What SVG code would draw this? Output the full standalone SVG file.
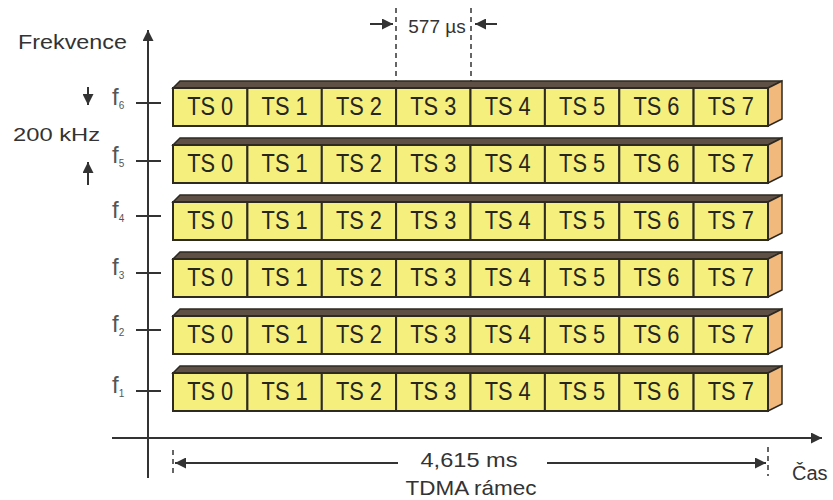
<svg xmlns="http://www.w3.org/2000/svg" width="833" height="500" viewBox="0 0 833 500">
<style>
.ax{stroke:#333;stroke-width:2;fill:none}
.dash{stroke:#333;stroke-width:1.5;stroke-dasharray:5,4;fill:none}
.cell{fill:#f5ef7e;stroke:#2e2a22;stroke-width:2}
.top{fill:#5e5044;stroke:#2e2a22;stroke-width:1.5}
.side{fill:#f2b97c;stroke:#2e2a22;stroke-width:1.5}
.ts{font-family:"Liberation Sans",Arial,sans-serif;font-size:25px;fill:#26261e;text-anchor:middle}
.lbl{font-family:"Liberation Sans",Arial,sans-serif;fill:#333}
.f{font-family:"Liberation Sans",Arial,sans-serif;font-size:24px;fill:#555}
.fs{font-size:10px}
</style>
<defs>
<marker id="ah" viewBox="0 0 10 10" refX="10" refY="5" markerUnits="userSpaceOnUse" markerWidth="15" markerHeight="11" orient="auto-start-reverse">
<path d="M0,0 L10,5 L0,10 z" fill="#333"/>
</marker>
</defs>

<g id="axes">
<line class="ax" x1="148" y1="478" x2="148" y2="30" marker-end="url(#ah)"/>
<line class="ax" x1="112" y1="438" x2="822" y2="438" marker-end="url(#ah)"/>
<text class="lbl" x="18" y="49" font-size="20" textLength="109" lengthAdjust="spacingAndGlyphs">Frekvence</text>
<text class="lbl" x="792" y="480" font-size="20">Čas</text>
</g>

<g id="freq-labels">
<line class="ax" x1="136" y1="103" x2="161" y2="103"/>
<line class="ax" x1="136" y1="161" x2="161" y2="161"/>
<line class="ax" x1="136" y1="216" x2="161" y2="216"/>
<line class="ax" x1="136" y1="273" x2="161" y2="273"/>
<line class="ax" x1="136" y1="330" x2="161" y2="330"/>
<line class="ax" x1="136" y1="391" x2="161" y2="391"/>
<text class="f" x="112" y="105">f<tspan class="fs" dy="4">6</tspan></text>
<text class="f" x="112" y="163">f<tspan class="fs" dy="4">5</tspan></text>
<text class="f" x="112" y="218">f<tspan class="fs" dy="4">4</tspan></text>
<text class="f" x="112" y="275">f<tspan class="fs" dy="4">3</tspan></text>
<text class="f" x="112" y="332">f<tspan class="fs" dy="4">2</tspan></text>
<text class="f" x="112" y="393">f<tspan class="fs" dy="4">1</tspan></text>
</g>

<g id="bandwidth">
<line class="ax" x1="88" y1="87" x2="88" y2="105" marker-end="url(#ah)"/>
<line class="ax" x1="88" y1="185" x2="88" y2="162" marker-end="url(#ah)"/>
<text class="lbl" x="13" y="141" font-size="19" textLength="87" lengthAdjust="spacingAndGlyphs">200 kHz</text>
</g>

<g id="connectors">
<line class="dash" x1="396" y1="8" x2="396" y2="81"/>
<line class="dash" x1="471" y1="8" x2="471" y2="81"/>
<line class="ax" x1="370" y1="24" x2="393" y2="24" marker-end="url(#ah)"/>
<line class="ax" x1="497" y1="24" x2="475" y2="24" marker-end="url(#ah)"/>
<line class="dash" x1="173" y1="450" x2="173" y2="476"/>
<line class="dash" x1="768" y1="447" x2="768" y2="476"/>
<line class="ax" x1="398" y1="463" x2="175" y2="463" marker-end="url(#ah)"/>
<line class="ax" x1="547" y1="463" x2="766" y2="463" marker-end="url(#ah)"/>
</g>
<g id="time-labels">
<text class="lbl" x="437" y="33" font-size="19" text-anchor="middle">577 µs</text>
<text class="lbl" x="469" y="467" font-size="21" text-anchor="middle" textLength="97" lengthAdjust="spacingAndGlyphs">4,615 ms</text>
<text class="lbl" x="471" y="495" font-size="21" text-anchor="middle" textLength="131" lengthAdjust="spacingAndGlyphs">TDMA rámec</text>
</g>

<g id="row-f6">
<polygon class="top" points="173,88 180,81 782,81 768,88"/>
<polygon class="side" points="768,88 782,81 782,119 768,126"/>
<g id="f6-ts0"><rect class="cell" x="173" y="88" width="74.4" height="38"/><text class="ts" x="210.2" y="115" textLength="46" lengthAdjust="spacingAndGlyphs">TS 0</text></g>
<g id="f6-ts1"><rect class="cell" x="247.4" y="88" width="74.4" height="38"/><text class="ts" x="284.6" y="115" textLength="46" lengthAdjust="spacingAndGlyphs">TS 1</text></g>
<g id="f6-ts2"><rect class="cell" x="321.8" y="88" width="74.3" height="38"/><text class="ts" x="358.9" y="115" textLength="46" lengthAdjust="spacingAndGlyphs">TS 2</text></g>
<g id="f6-ts3"><rect class="cell" x="396.1" y="88" width="74.4" height="38"/><text class="ts" x="433.3" y="115" textLength="46" lengthAdjust="spacingAndGlyphs">TS 3</text></g>
<g id="f6-ts4"><rect class="cell" x="470.5" y="88" width="74.4" height="38"/><text class="ts" x="507.7" y="115" textLength="46" lengthAdjust="spacingAndGlyphs">TS 4</text></g>
<g id="f6-ts5"><rect class="cell" x="544.9" y="88" width="74.4" height="38"/><text class="ts" x="582.1" y="115" textLength="46" lengthAdjust="spacingAndGlyphs">TS 5</text></g>
<g id="f6-ts6"><rect class="cell" x="619.3" y="88" width="74.3" height="38"/><text class="ts" x="656.4" y="115" textLength="46" lengthAdjust="spacingAndGlyphs">TS 6</text></g>
<g id="f6-ts7"><rect class="cell" x="693.6" y="88" width="74.4" height="38"/><text class="ts" x="730.8" y="115" textLength="46" lengthAdjust="spacingAndGlyphs">TS 7</text></g>
</g>

<g id="row-f5">
<polygon class="top" points="173,145 180,138 782,138 768,145"/>
<polygon class="side" points="768,145 782,138 782,176 768,183"/>
<g id="f5-ts0"><rect class="cell" x="173" y="145" width="74.4" height="38"/><text class="ts" x="210.2" y="172" textLength="46" lengthAdjust="spacingAndGlyphs">TS 0</text></g>
<g id="f5-ts1"><rect class="cell" x="247.4" y="145" width="74.4" height="38"/><text class="ts" x="284.6" y="172" textLength="46" lengthAdjust="spacingAndGlyphs">TS 1</text></g>
<g id="f5-ts2"><rect class="cell" x="321.8" y="145" width="74.3" height="38"/><text class="ts" x="358.9" y="172" textLength="46" lengthAdjust="spacingAndGlyphs">TS 2</text></g>
<g id="f5-ts3"><rect class="cell" x="396.1" y="145" width="74.4" height="38"/><text class="ts" x="433.3" y="172" textLength="46" lengthAdjust="spacingAndGlyphs">TS 3</text></g>
<g id="f5-ts4"><rect class="cell" x="470.5" y="145" width="74.4" height="38"/><text class="ts" x="507.7" y="172" textLength="46" lengthAdjust="spacingAndGlyphs">TS 4</text></g>
<g id="f5-ts5"><rect class="cell" x="544.9" y="145" width="74.4" height="38"/><text class="ts" x="582.1" y="172" textLength="46" lengthAdjust="spacingAndGlyphs">TS 5</text></g>
<g id="f5-ts6"><rect class="cell" x="619.3" y="145" width="74.3" height="38"/><text class="ts" x="656.4" y="172" textLength="46" lengthAdjust="spacingAndGlyphs">TS 6</text></g>
<g id="f5-ts7"><rect class="cell" x="693.6" y="145" width="74.4" height="38"/><text class="ts" x="730.8" y="172" textLength="46" lengthAdjust="spacingAndGlyphs">TS 7</text></g>
</g>

<g id="row-f4">
<polygon class="top" points="173,202 180,195 782,195 768,202"/>
<polygon class="side" points="768,202 782,195 782,233 768,240"/>
<g id="f4-ts0"><rect class="cell" x="173" y="202" width="74.4" height="38"/><text class="ts" x="210.2" y="229" textLength="46" lengthAdjust="spacingAndGlyphs">TS 0</text></g>
<g id="f4-ts1"><rect class="cell" x="247.4" y="202" width="74.4" height="38"/><text class="ts" x="284.6" y="229" textLength="46" lengthAdjust="spacingAndGlyphs">TS 1</text></g>
<g id="f4-ts2"><rect class="cell" x="321.8" y="202" width="74.3" height="38"/><text class="ts" x="358.9" y="229" textLength="46" lengthAdjust="spacingAndGlyphs">TS 2</text></g>
<g id="f4-ts3"><rect class="cell" x="396.1" y="202" width="74.4" height="38"/><text class="ts" x="433.3" y="229" textLength="46" lengthAdjust="spacingAndGlyphs">TS 3</text></g>
<g id="f4-ts4"><rect class="cell" x="470.5" y="202" width="74.4" height="38"/><text class="ts" x="507.7" y="229" textLength="46" lengthAdjust="spacingAndGlyphs">TS 4</text></g>
<g id="f4-ts5"><rect class="cell" x="544.9" y="202" width="74.4" height="38"/><text class="ts" x="582.1" y="229" textLength="46" lengthAdjust="spacingAndGlyphs">TS 5</text></g>
<g id="f4-ts6"><rect class="cell" x="619.3" y="202" width="74.3" height="38"/><text class="ts" x="656.4" y="229" textLength="46" lengthAdjust="spacingAndGlyphs">TS 6</text></g>
<g id="f4-ts7"><rect class="cell" x="693.6" y="202" width="74.4" height="38"/><text class="ts" x="730.8" y="229" textLength="46" lengthAdjust="spacingAndGlyphs">TS 7</text></g>
</g>

<g id="row-f3">
<polygon class="top" points="173,259 180,252 782,252 768,259"/>
<polygon class="side" points="768,259 782,252 782,290 768,297"/>
<g id="f3-ts0"><rect class="cell" x="173" y="259" width="74.4" height="38"/><text class="ts" x="210.2" y="286" textLength="46" lengthAdjust="spacingAndGlyphs">TS 0</text></g>
<g id="f3-ts1"><rect class="cell" x="247.4" y="259" width="74.4" height="38"/><text class="ts" x="284.6" y="286" textLength="46" lengthAdjust="spacingAndGlyphs">TS 1</text></g>
<g id="f3-ts2"><rect class="cell" x="321.8" y="259" width="74.3" height="38"/><text class="ts" x="358.9" y="286" textLength="46" lengthAdjust="spacingAndGlyphs">TS 2</text></g>
<g id="f3-ts3"><rect class="cell" x="396.1" y="259" width="74.4" height="38"/><text class="ts" x="433.3" y="286" textLength="46" lengthAdjust="spacingAndGlyphs">TS 3</text></g>
<g id="f3-ts4"><rect class="cell" x="470.5" y="259" width="74.4" height="38"/><text class="ts" x="507.7" y="286" textLength="46" lengthAdjust="spacingAndGlyphs">TS 4</text></g>
<g id="f3-ts5"><rect class="cell" x="544.9" y="259" width="74.4" height="38"/><text class="ts" x="582.1" y="286" textLength="46" lengthAdjust="spacingAndGlyphs">TS 5</text></g>
<g id="f3-ts6"><rect class="cell" x="619.3" y="259" width="74.3" height="38"/><text class="ts" x="656.4" y="286" textLength="46" lengthAdjust="spacingAndGlyphs">TS 6</text></g>
<g id="f3-ts7"><rect class="cell" x="693.6" y="259" width="74.4" height="38"/><text class="ts" x="730.8" y="286" textLength="46" lengthAdjust="spacingAndGlyphs">TS 7</text></g>
</g>

<g id="row-f2">
<polygon class="top" points="173,316 180,309 782,309 768,316"/>
<polygon class="side" points="768,316 782,309 782,347 768,354"/>
<g id="f2-ts0"><rect class="cell" x="173" y="316" width="74.4" height="38"/><text class="ts" x="210.2" y="343" textLength="46" lengthAdjust="spacingAndGlyphs">TS 0</text></g>
<g id="f2-ts1"><rect class="cell" x="247.4" y="316" width="74.4" height="38"/><text class="ts" x="284.6" y="343" textLength="46" lengthAdjust="spacingAndGlyphs">TS 1</text></g>
<g id="f2-ts2"><rect class="cell" x="321.8" y="316" width="74.3" height="38"/><text class="ts" x="358.9" y="343" textLength="46" lengthAdjust="spacingAndGlyphs">TS 2</text></g>
<g id="f2-ts3"><rect class="cell" x="396.1" y="316" width="74.4" height="38"/><text class="ts" x="433.3" y="343" textLength="46" lengthAdjust="spacingAndGlyphs">TS 3</text></g>
<g id="f2-ts4"><rect class="cell" x="470.5" y="316" width="74.4" height="38"/><text class="ts" x="507.7" y="343" textLength="46" lengthAdjust="spacingAndGlyphs">TS 4</text></g>
<g id="f2-ts5"><rect class="cell" x="544.9" y="316" width="74.4" height="38"/><text class="ts" x="582.1" y="343" textLength="46" lengthAdjust="spacingAndGlyphs">TS 5</text></g>
<g id="f2-ts6"><rect class="cell" x="619.3" y="316" width="74.3" height="38"/><text class="ts" x="656.4" y="343" textLength="46" lengthAdjust="spacingAndGlyphs">TS 6</text></g>
<g id="f2-ts7"><rect class="cell" x="693.6" y="316" width="74.4" height="38"/><text class="ts" x="730.8" y="343" textLength="46" lengthAdjust="spacingAndGlyphs">TS 7</text></g>
</g>

<g id="row-f1">
<polygon class="top" points="173,373 180,366 782,366 768,373"/>
<polygon class="side" points="768,373 782,366 782,404 768,411"/>
<g id="f1-ts0"><rect class="cell" x="173" y="373" width="74.4" height="38"/><text class="ts" x="210.2" y="400" textLength="46" lengthAdjust="spacingAndGlyphs">TS 0</text></g>
<g id="f1-ts1"><rect class="cell" x="247.4" y="373" width="74.4" height="38"/><text class="ts" x="284.6" y="400" textLength="46" lengthAdjust="spacingAndGlyphs">TS 1</text></g>
<g id="f1-ts2"><rect class="cell" x="321.8" y="373" width="74.3" height="38"/><text class="ts" x="358.9" y="400" textLength="46" lengthAdjust="spacingAndGlyphs">TS 2</text></g>
<g id="f1-ts3"><rect class="cell" x="396.1" y="373" width="74.4" height="38"/><text class="ts" x="433.3" y="400" textLength="46" lengthAdjust="spacingAndGlyphs">TS 3</text></g>
<g id="f1-ts4"><rect class="cell" x="470.5" y="373" width="74.4" height="38"/><text class="ts" x="507.7" y="400" textLength="46" lengthAdjust="spacingAndGlyphs">TS 4</text></g>
<g id="f1-ts5"><rect class="cell" x="544.9" y="373" width="74.4" height="38"/><text class="ts" x="582.1" y="400" textLength="46" lengthAdjust="spacingAndGlyphs">TS 5</text></g>
<g id="f1-ts6"><rect class="cell" x="619.3" y="373" width="74.3" height="38"/><text class="ts" x="656.4" y="400" textLength="46" lengthAdjust="spacingAndGlyphs">TS 6</text></g>
<g id="f1-ts7"><rect class="cell" x="693.6" y="373" width="74.4" height="38"/><text class="ts" x="730.8" y="400" textLength="46" lengthAdjust="spacingAndGlyphs">TS 7</text></g>
</g>
</svg>
